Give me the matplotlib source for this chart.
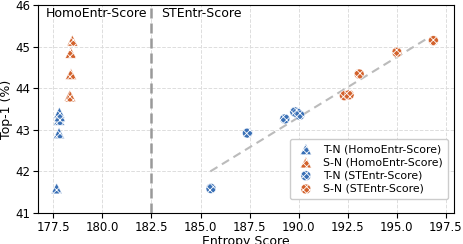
import numpy as np
import matplotlib
matplotlib.use("Agg")
import matplotlib.pyplot as plt

# HomoEntr-Score points
homo_tn_x = [177.67, 177.79, 177.80, 177.83, 177.81]
homo_tn_y = [41.59, 42.92, 43.24, 43.33, 43.41]
homo_sn_x = [178.47, 178.39, 178.40, 178.34, 178.37]
homo_sn_y = [45.14, 44.85, 44.34, 43.82, 43.80]

# STEntr-Score points
st_tn_x = [185.53, 187.39, 189.29, 189.80, 189.92, 190.05]
st_tn_y = [41.59, 42.92, 43.26, 43.43, 43.40, 43.35]
st_sn_x = [192.33, 192.57, 193.08, 195.00, 196.86]
st_sn_y = [43.82, 43.84, 44.34, 44.86, 45.14]

# trend line endpoints
trend_x = [185.5, 196.5]
trend_y = [42.0, 45.18]

split_x = 182.5
xticks = [177.5, 180.0, 182.5, 185.0, 187.5, 190.0, 192.5, 195.0, 197.5]
yticks = [41, 42, 43, 44, 45, 46]

blue = '#3a70b6'
orange = '#d3622c'

plt.rcParams['hatch.linewidth'] = 0.6

fig, ax = plt.subplots(figsize=(4.64, 2.44), dpi=100)
fig.subplots_adjust(left=0.081, right=0.978, top=0.98, bottom=0.127)

ax.grid(True, color='#dddddd', linestyle='--', linewidth=0.7)
ax.set_axisbelow(True)

ax.axvline(split_x, color='#999999', linestyle='--', linewidth=1.8, dashes=(4, 2))
ax.plot(trend_x, trend_y, color='#bbbbbb', linestyle='--', linewidth=1.5, dashes=(4, 2.5), zorder=2)

kw = dict(edgecolors='white', linewidths=0.3, hatch='xxxxx', zorder=3)
ax.scatter(homo_tn_x, homo_tn_y, marker='^', s=60, color=blue, label='T-N (HomoEntr-Score)', **kw)
ax.scatter(homo_sn_x, homo_sn_y, marker='^', s=60, color=orange, label='S-N (HomoEntr-Score)', **kw)
ax.scatter(st_tn_x, st_tn_y, marker='o', s=50, color=blue, label='T-N (STEntr-Score)', **kw)
ax.scatter(st_sn_x, st_sn_y, marker='o', s=50, color=orange, label='S-N (STEntr-Score)', **kw)

ax.text(177.1, 45.8, 'HomoEntr-Score', fontsize=9, va='center')
ax.text(183.0, 45.8, 'STEntr-Score', fontsize=9, va='center')

ax.set_xlim(176.7, 197.9)
ax.set_ylim(41, 46)
ax.set_xticks(xticks)
ax.set_yticks(yticks)
ax.tick_params(labelsize=8.5, pad=2)
ax.set_xlabel('Entropy Score', fontsize=9, labelpad=1)
ax.set_ylabel('Top-1 (%)', fontsize=9)
ax.yaxis.set_label_coords(-0.058, 0.5)

ax.legend(loc='lower right', fontsize=7.8, handletextpad=0.6, borderpad=0.5,
          labelspacing=0.3, framealpha=1, edgecolor='#cccccc',
          bbox_to_anchor=(1.0, 0.04))

fig.savefig('out.png', dpi=100)
